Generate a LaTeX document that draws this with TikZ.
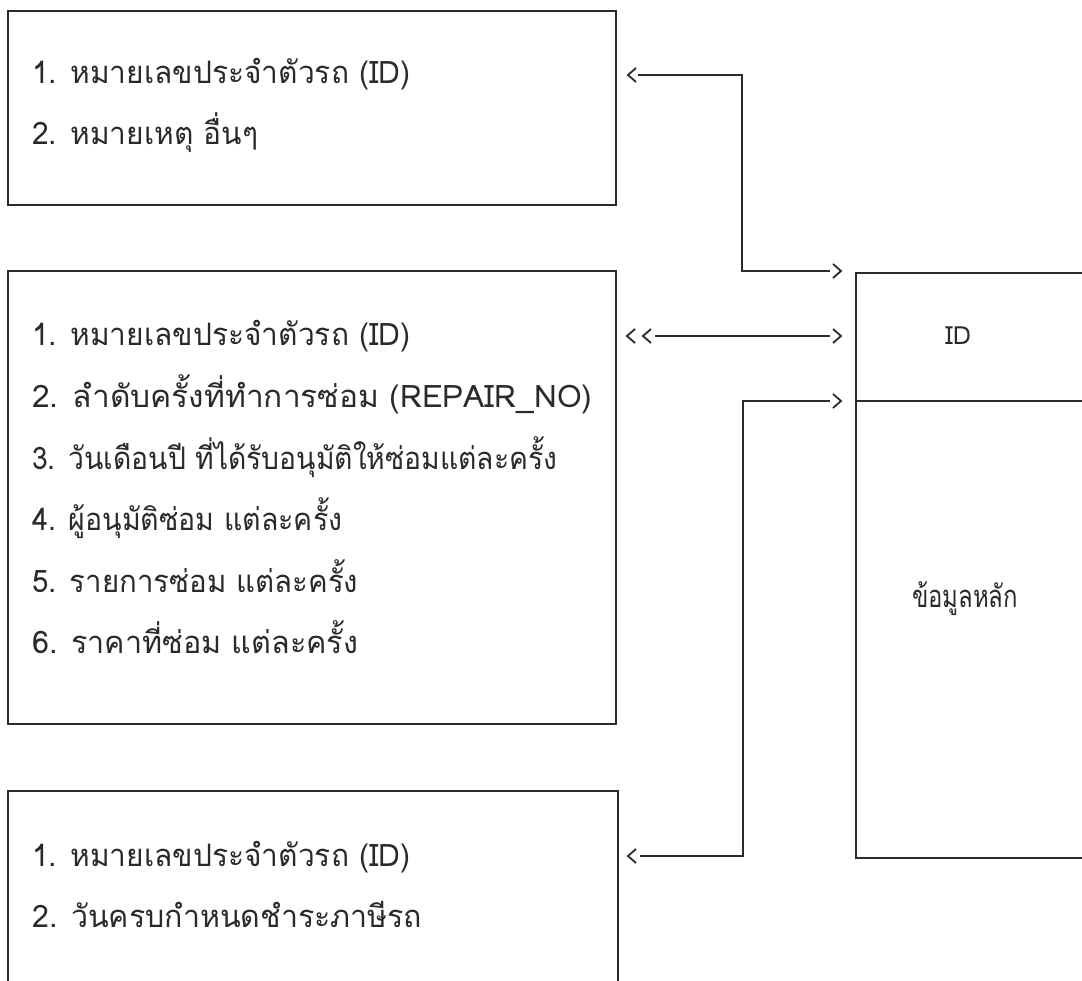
\documentclass[tikz,border=0pt]{standalone}
\usepackage{fontspec}
\usepackage{graphicx}
\newfontfamily\thaifont[Script=Thai]{Loma}
\definecolor{ink}{HTML}{2A2A2A}
\newcommand{\fitw}[2]{\resizebox{#1}{\height}{#2}}
\tikzset{
  frame/.style={draw=ink, line width=2pt, inner sep=0pt, anchor=north west},
  item/.style={anchor=base west, inner sep=0pt, text=ink, font=\thaifont\fontsize{31}{33}\selectfont},
  lab/.style={anchor=base, inner sep=0pt, text=ink, font=\thaifont\fontsize{31}{33}\selectfont},
  conn/.style={draw=ink, line width=2pt},
  lchev/.pic={\draw[conn, line width=1.8pt] (8,-7) -- (0,0) -- (8,7);},
  rchev/.pic={\draw[conn, line width=1.8pt] (-8,-7) -- (0,0) -- (-8,7);}
}
\begin{document}
\begin{tikzpicture}[x=1pt, y=-1pt]
\useasboundingbox (0,0) rectangle (1082,981);
% boxes
\node[frame, minimum width=608pt, minimum height=194pt] (b1) at (7,10) {};
\node[frame, minimum width=608pt, minimum height=453pt] (b2) at (7,270) {};
\node[frame, minimum width=610pt, minimum height=240pt] (b3) at (7,790) {};
\node[frame, minimum width=260pt, minimum height=585pt] (m) at (855,272) {};
\coordinate (dvL) at (855,401);
\draw[conn] (dvL) -- (dvL -| m.east);
% texts box 1
\node[item] (t11) at (32,84) {\fitw{378pt}{1. หมายเลขประจำตัวรถ (ID)}};
\node[item] (t12) at (32,145) {\fitw{226pt}{2. หมายเหตุ อื่นๆ}};
% texts box 2
\node[item] (t21) at (32,346) {\fitw{378pt}{1. หมายเลขประจำตัวรถ (ID)}};
\node[item] (t22) at (32,407.5) {\fitw{560pt}{2. ลำดับครั้งที่ทำการซ่อม (REPAIR\_NO)}};
\node[item] (t23) at (32,469) {\fitw{525pt}{3. วันเดือนปี ที่ได้รับอนุมัติให้ซ่อมแต่ละครั้ง}};
\node[item] (t24) at (32,530.5) {\fitw{310pt}{4. ผู้อนุมัติซ่อม แต่ละครั้ง}};
\node[item] (t25) at (32,592) {\fitw{326pt}{5. รายการซ่อม แต่ละครั้ง}};
\node[item] (t26) at (32,653.5) {\fitw{326pt}{6. ราคาที่ซ่อม แต่ละครั้ง}};
% texts box 3
\node[item] (t31) at (32,866) {\fitw{378pt}{1. หมายเลขประจำตัวรถ (ID)}};
\node[item] (t32) at (32,927) {\fitw{390pt}{2. วันครบกำหนดชำระภาษีรถ}};
% main box texts
\node[lab, font=\thaifont\fontsize{25}{27}\selectfont] (idl) at (958,345) {ID};
\node[lab] (main) at (965,607) {\fitw{106pt}{ข้อมูลหลัก}};
% connector A
\coordinate (aS) at (638,75);
\coordinate (aE) at (830,271);
\draw[conn] (aS) -- (742,75) -- (742,271) -- (aE);
\pic at (628,75) {lchev};
\pic at (841,271) {rchev};
% connector B
\coordinate (bS) at (655,336);
\coordinate (bE) at (830,336);
\draw[conn] (bS) -- (bE);
\pic at (627,336) {lchev};
\pic at (643,336) {lchev};
\pic at (841,336) {rchev};
% connector C
\coordinate (cS) at (830,401);
\coordinate (cE) at (640,856);
\draw[conn] (cS) -- (743,401) -- (743,856) -- (cE);
\pic at (841,401) {rchev};
\pic at (628,856) {lchev};
\end{tikzpicture}
\end{document}
